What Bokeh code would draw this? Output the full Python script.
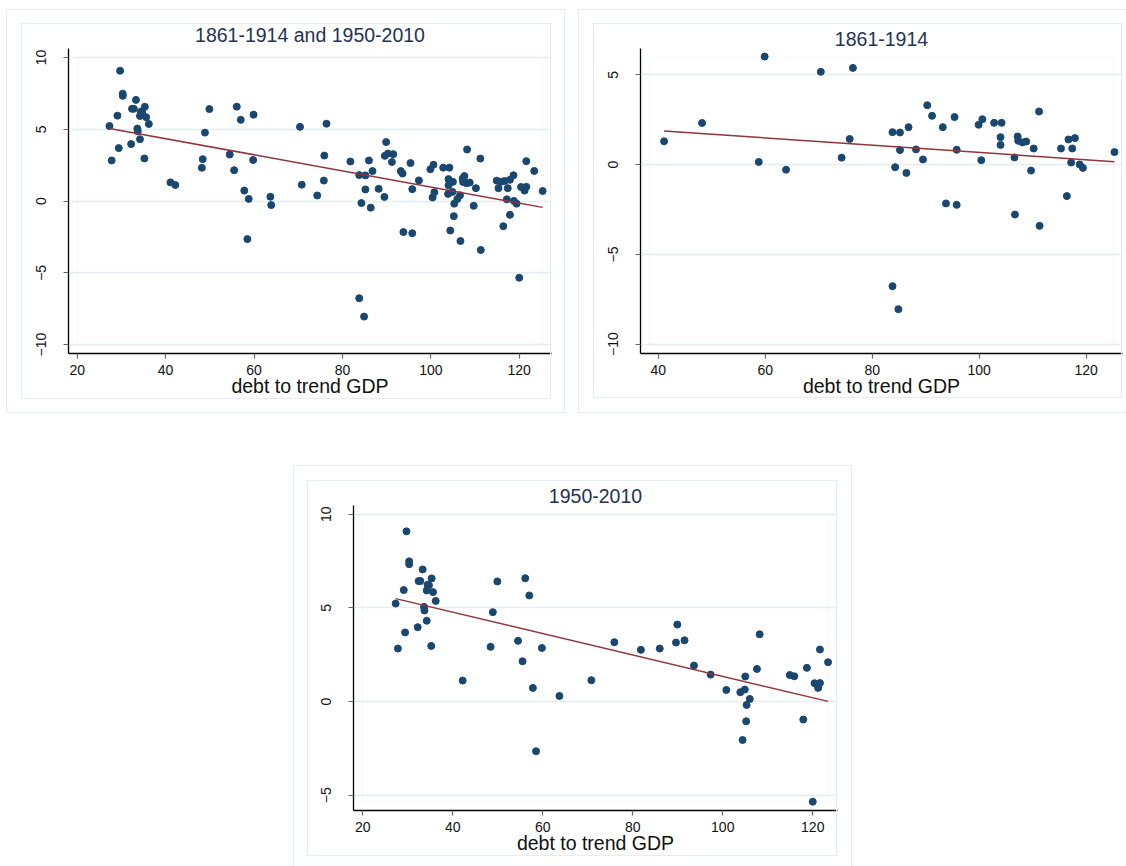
import numpy as np
from bokeh.plotting import figure
from bokeh.layouts import column, row
from bokeh.models import BoxAnnotation, FixedTicker, Range1d, InlineStyleSheet
from bokeh.embed import file_html
from bokeh.resources import INLINE

# ---- data ----
x_1861 = [41.1, 48.2, 58.8, 59.9, 63.9, 70.4, 74.3, 75.8, 76.4, 83.8, 83.8, 84.3, 84.9,
          85.2, 85.2, 86.4, 86.8, 88.2, 89.5, 90.3, 91.2, 93.2, 93.8, 95.4, 95.8, 95.8,
          99.9, 100.4, 100.6, 102.8, 104.0, 104.0, 104.2, 106.6, 106.7, 107.2, 107.3,
          108.1, 108.8, 109.7, 110.2, 111.2, 111.3, 115.3, 116.4, 116.7, 117.2, 117.4,
          117.9, 118.8, 119.4, 125.3]
y_1861 = [1.30, 2.32, 0.15, 6.02, -0.28, 5.17, 0.39, 1.43, 5.39, 1.81, -6.77, -0.14, -8.05,
          1.79, 0.81, -0.46, 2.09, 0.85, 0.29, 3.31, 2.72, 2.09, -2.16, 2.65, -2.24, 0.83,
          2.22, 0.25, 2.53, 2.33, 1.53, 1.10, 2.33, 0.40, -2.78, 1.57, 1.33,
          1.24, 1.29, -0.33, 0.90, 2.96, -3.41, 0.90, -1.75, 1.40, 0.12, 0.90,
          1.48, 0.01, -0.18, 0.70]

x_1950 = [27.3, 27.8, 29.1, 29.4, 29.7, 30.3, 30.3, 32.2, 32.4, 32.8, 33.3, 33.6, 33.7,
          34.2, 34.2, 34.4, 34.7, 35.2, 35.3, 35.6, 36.2, 42.2, 48.4, 48.9, 49.9, 54.5,
          55.5, 56.1, 57.0, 57.8, 58.5, 59.8, 63.7, 70.8, 75.9, 81.8, 86.0, 89.6, 89.9,
          91.5, 93.6, 97.3, 100.8, 103.9, 104.9, 104.4, 105.0, 105.3, 105.2, 106.0,
          107.6, 108.2, 114.9, 115.9, 117.9, 118.7, 120.0, 120.4, 121.2, 121.1, 121.6,
          121.6, 123.4]
y_1950 = [5.23, 2.83, 5.95, 3.69, 9.08, 7.48, 7.33, 3.97, 6.43, 6.43, 7.05, 5.05, 4.86,
          4.31, 5.93, 6.23, 6.20, 2.97, 6.57, 5.84, 5.37, 1.12, 2.92, 4.77, 6.41, 3.24,
          2.15, 6.58, 5.66, 0.73, -2.65, 2.86, 0.30, 1.14, 3.17, 2.76, 2.83, 3.15, 4.11,
          3.27, 1.92, 1.44, 0.62, 0.50, 0.64, -2.05, 1.34, -0.18, -1.05, 0.14,
          1.74, 3.59, 1.42, 1.35, -0.96, 1.80, -5.34, 0.98, 0.73, 0.87, 0.99,
          2.78, 2.10]

x_all = x_1861 + x_1950
y_all = y_1861 + y_1950

titles = ["1861-1914 and 1950-2010", "1861-1914", "1950-2010"]
x_label = "debt to trend GDP"
x_ticks_a = [20, 40, 60, 80, 100, 120]
x_ticks_b = [40, 60, 80, 100, 120]
y_ticks_a = [-10, -5, 0, 5, 10]
y_ticks_b = [-10, -5, 0, 5]
y_ticks_c = [-5, 0, 5, 10]

# ---- styling ----
FONT = "Liberation Sans"
NAVY = "#1a476f"
MAROON = "#90353b"
FAINT = "#e4edf0"
TITLE_C = "#243156"


def box_css(outer_box, region_box):
    parts = []
    for sel, (l, t, r, b) in ((":host::before", outer_box), (":host::after", region_box)):
        parts.append(
            f"{sel} {{ content: ''; position: absolute; left: {l}px; top: {t}px; "
            f"width: {r - l}px; height: {b - t}px; border: 1px solid {FAINT}; "
            f"box-sizing: border-box; pointer-events: none; }}")
    return InlineStyleSheet(css="\n".join(parts))


def make_panel(title, xs, ys, x_rng, y_rng, x_ticks, y_ticks, width, height,
               borders, outer_box, region_box):
    bl, br, bt, bb = borders
    p = figure(width=width, height=height, title=title,
               x_range=Range1d(*x_rng), y_range=Range1d(*y_rng),
               output_backend="svg", toolbar_location=None,
               min_border_left=bl, min_border_right=br,
               min_border_top=bt, min_border_bottom=bb,
               stylesheets=[box_css(outer_box, region_box)])
    fw = width - bl - br
    fh = height - bt - bb
    p.background_fill_color = "white"
    p.border_fill_color = None
    p.outline_line_color = None

    # title
    p.title.align = "center"
    p.title.text_font = FONT
    p.title.text_font_size = "19.5px"
    p.title.text_font_style = "normal"
    p.title.text_color = TITLE_C
    p.title.standoff = 6

    # grids
    p.xgrid.visible = False
    p.ygrid.grid_line_color = FAINT
    p.ygrid.grid_line_width = 1.3
    p.ygrid.ticker = FixedTicker(ticks=y_ticks)

    # axes
    p.xaxis.ticker = FixedTicker(ticks=x_ticks)
    p.yaxis.ticker = FixedTicker(ticks=y_ticks)
    for ax in (p.xaxis[0], p.yaxis[0]):
        ax.axis_line_color = "black"
        ax.axis_line_width = 1.3
        ax.major_tick_line_color = "#666666"
        ax.major_tick_line_width = 1.2
        ax.major_tick_in = 0
        ax.major_tick_out = 5
        ax.minor_tick_line_color = None
        ax.major_label_text_font = FONT
        ax.major_label_text_font_size = "14px"
        ax.major_label_text_color = "#111111"
    p.xaxis.major_label_standoff = 6
    p.yaxis.major_label_standoff = 17
    p.yaxis.major_label_orientation = "vertical"
    p.xaxis.axis_label = x_label
    p.xaxis.axis_label_text_font = FONT
    p.xaxis.axis_label_text_font_size = "19.5px"
    p.xaxis.axis_label_text_font_style = "normal"
    p.xaxis.axis_label_text_color = "#111111"
    p.xaxis.axis_label_standoff = -3

    # plot-region box (inset 9 px from the axes)
    dx = 9 * (x_rng[1] - x_rng[0]) / fw
    dy = 9 * (y_rng[1] - y_rng[0]) / fh
    p.add_layout(BoxAnnotation(left=x_rng[0] + dx, right=x_rng[1] - dx,
                               bottom=y_rng[0] + dy, top=y_rng[1] - dy,
                               fill_alpha=0, line_color=FAINT, line_width=1.3,
                               level="underlay"))

    # data
    p.scatter(xs, ys, size=7, color=NAVY, line_color=NAVY)
    slope, intercept = np.polyfit(np.array(xs), np.array(ys), 1)
    fx = np.array([min(xs), max(xs)])
    p.line(fx, intercept + slope * fx, line_color=MAROON, line_width=1.5)
    return p


p1 = make_panel(titles[0], x_all, y_all, (18.03, 127.3), (-10.62, 10.63),
                x_ticks_a, y_ticks_a, 572, 420, (68, 21, 48, 67),
                (6, 9, 565, 413), (21, 23, 551, 399))
p2 = make_panel(titles[1], x_1861, y_1861, (36.69, 126.8), (-10.52, 6.47),
                x_ticks_b, y_ticks_b, 554, 420, (68, 4, 48, 67),
                (6, 9, 560, 413), (21, 23, 550, 398))
p3 = make_panel(titles[2], x_1950, y_1950, (17.93, 125.5), (-5.81, 10.46),
                x_ticks_a, y_ticks_c, 857, 444, (353, 20, 85, 54),
                (293, 45, 852, 450), (307, 60, 837, 436))

layout = column(row(p1, p2), p3)
open("out.html", "w").write(file_html(layout, INLINE))
